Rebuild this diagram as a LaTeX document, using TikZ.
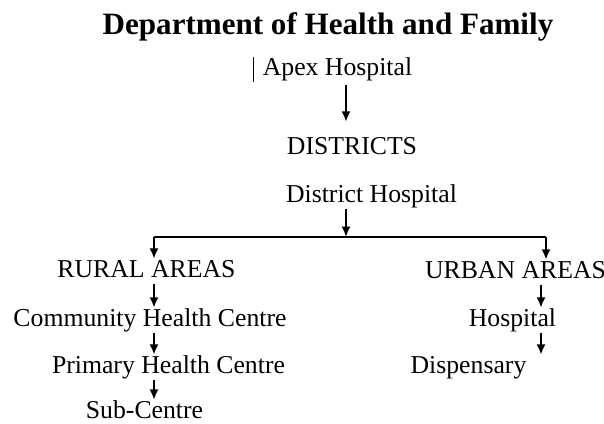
\documentclass[tikz,border=0pt]{standalone}
\usepackage{fontspec}
\setmainfont{Liberation Serif}
\usepackage{tikz}
\usetikzlibrary{arrows.meta}
\tikzset{
  lbl/.style={
    anchor=base,
    inner sep=0pt,
    text height=0.45cm,
    text depth=0.16cm,
    font=\fontsize{18.3pt}{22pt}\selectfont
  },
  heading/.style={lbl, font=\fontsize{22.1pt}{26pt}\selectfont\bfseries},
  arrow/.style={-{Latex[length=2.6mm,width=2.3mm]}, line width=1.6pt},
  branch/.style={line width=1.5pt}
}

\begin{document}
\begin{tikzpicture}[x=0.025cm, y=-0.025cm]
        \useasboundingbox (0,0) rectangle (604,423);
        \node[heading] (dept) at (328,34) {Department of Health and Family};
        \node[lbl] (apex) at (337.5,75) {Apex Hospital};
        \node[lbl] (districts) at (352,154) {DISTRICTS};
        \node[lbl] (dhosp) at (371.5,202) {District Hospital};
        \node[lbl] (rural) at (146.5,277) {RURAL AREAS};
        \node[lbl] (urban) at (515.5,278) {URBAN AREAS};
        \node[lbl] (chc) at (150,326) {Community Health Centre};
        \node[lbl] (phc) at (168.5,373) {Primary Health Centre};
        \node[lbl, text depth=0.02cm] (sub) at (144.5,418) {Sub-Centre};
        \node[lbl] (hosp) at (512.5,326) {Hospital};
        \node[lbl] (disp) at (468.5,373) {Dispensary};
        % columns the arrows run down
        \coordinate (midcol) at (346,0);
        \coordinate (leftcol) at (154,0);
        \coordinate (rightcol) at (541,0);
        \coordinate (barL) at (154,237);
        \coordinate (barR) at (546,237);
        \draw[line width=0.6pt] ([xshift=-0.22cm]apex.north west) -- ([xshift=-0.22cm]apex.south west);
        \draw[arrow] ([yshift=-0.09cm]apex.south -| midcol) -- ([yshift=0.35cm]districts.north -| midcol);
        \draw[arrow] (dhosp.south -| midcol) -- (barL -| midcol);
        \draw[branch] (barL) -- (barR);
        \draw[arrow] (barL) -- (rural.north -| barL);
        \draw[arrow] (barR) -- (urban.north -| barR);
        \draw[arrow] (rural.south -| leftcol) -- (chc.north -| leftcol);
        \draw[arrow] (chc.south -| leftcol) -- (phc.north -| leftcol);
        \draw[arrow] (phc.south -| leftcol) -- (sub.north -| leftcol);
        \draw[arrow] (urban.south -| rightcol) -- (hosp.north -| rightcol);
        \draw[arrow] (hosp.south -| rightcol) -- (disp.north -| rightcol);
      \end{tikzpicture}
\end{document}
